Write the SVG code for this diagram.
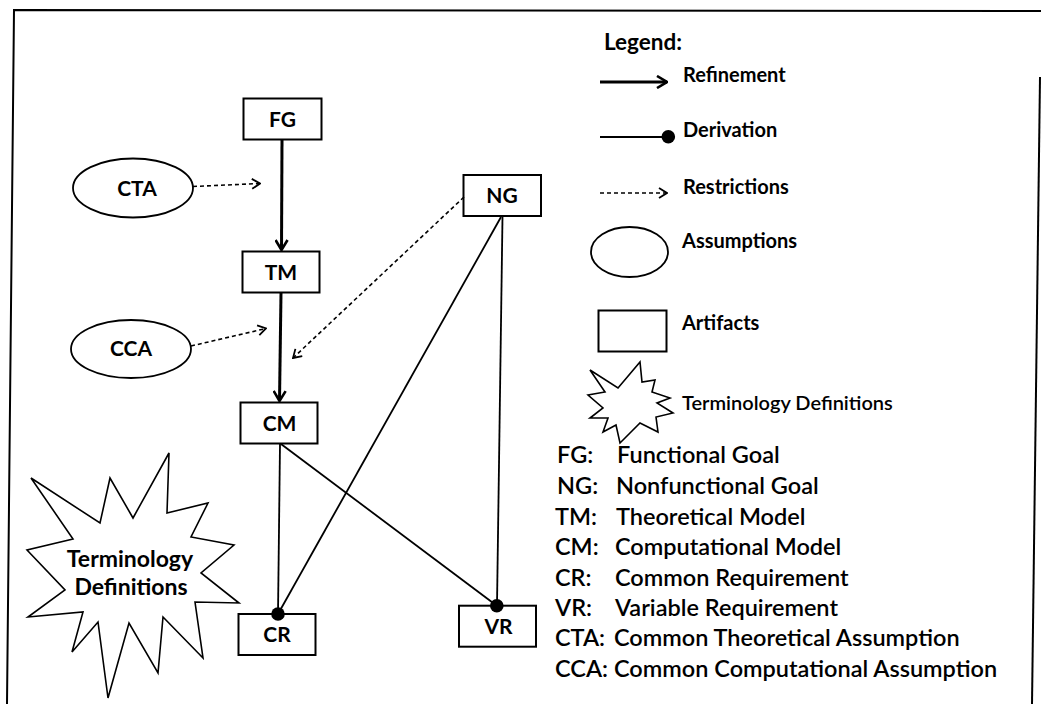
<svg xmlns="http://www.w3.org/2000/svg" width="1041" height="704" viewBox="0 0 1041 704">
  <style>
    .frame { fill: none; stroke: #000; stroke-width: 2; }
    .box { fill: #fff; stroke: #000; stroke-width: 2; }
    .ell { fill: #fff; stroke: #000; stroke-width: 1.8; }
    .burst { fill: #fff; stroke: #000; stroke-width: 1.6; stroke-linejoin: miter; }
    .refine { fill: none; stroke: #000; stroke-width: 3; }
    .derive { fill: none; stroke: #000; stroke-width: 1.8; }
    .restrict { fill: none; stroke: #000; stroke-width: 1.6; stroke-dasharray: 4 3; }
    .dot { fill: #000; }
    .lbl { font-family: Lato, "Liberation Sans", sans-serif; font-weight: bold; font-size: 21px; fill: #000; text-anchor: middle; }
    .leg { font-family: Lato, "Liberation Sans", sans-serif; font-weight: bold; font-size: 20px; fill: #000; }
    .abbr { font-family: Lato, "Liberation Sans", sans-serif; font-weight: 600; font-size: 23.5px; fill: #000; }
  </style>
  <defs>
    <marker id="headRefine" viewBox="0 0 12 14" refX="11" refY="7" markerWidth="12" markerHeight="14" markerUnits="userSpaceOnUse" orient="auto">
      <path d="M1,1 L11,7 L1,13" fill="none" stroke="#000" stroke-width="2.6"/>
    </marker>
    <marker id="headRestrict" viewBox="0 0 10 12" refX="9" refY="6" markerWidth="10" markerHeight="12" markerUnits="userSpaceOnUse" orient="auto">
      <path d="M1,1 L9,6 L1,11" fill="none" stroke="#000" stroke-width="1.8"/>
    </marker>
  </defs>

  <!-- outer border -->
  <g id="border">
    <path class="frame" d="M7,704 L14,10 L1041,11"/>
    <path class="frame" d="M1040,77 L1032,704"/>
  </g>

  <!-- artifacts -->
  <g id="node-FG">
    <rect class="box" x="243.5" y="98.5" width="78" height="41"/>
    <text class="lbl" x="282.5" y="126.5">FG</text>
  </g>
  <g id="node-TM">
    <rect class="box" x="242.5" y="251.5" width="77" height="41"/>
    <text class="lbl" x="281" y="279.5">TM</text>
  </g>
  <g id="node-CM">
    <rect class="box" x="240.5" y="402.5" width="77" height="41"/>
    <text class="lbl" x="279.5" y="430.5">CM</text>
  </g>
  <g id="node-CR">
    <rect class="box" x="238.5" y="614" width="77" height="41"/>
    <text class="lbl" x="277" y="642">CR</text>
  </g>
  <g id="node-VR">
    <rect class="box" x="459" y="605.7" width="77" height="41"/>
    <text class="lbl" x="498.5" y="633.5">VR</text>
  </g>
  <g id="node-NG">
    <rect class="box" x="463.5" y="175" width="77.5" height="41"/>
    <text class="lbl" x="502" y="202.5">NG</text>
  </g>

  <!-- assumptions -->
  <g id="node-CTA">
    <ellipse class="ell" cx="133" cy="188" rx="60" ry="29.5"/>
    <text class="lbl" x="137" y="195.5">CTA</text>
  </g>
  <g id="node-CCA">
    <ellipse class="ell" cx="131" cy="349" rx="60" ry="29"/>
    <text class="lbl" x="131" y="355.5">CCA</text>
  </g>

  <!-- terminology definitions -->
  <g id="node-terminology">
    <polygon class="burst" points="31,478 100,523 110,478 133,518 169,453 167,513 208,503 191,537 234,545 201,573 239,603 195,602 203,658 163,617 158,673 129,623 108,698 98,622 72,652 83,612 28,617 65,590 27,550 73,539"/>
    <text class="lbl" x="130" y="567" style="font-size:23px">Terminology</text>
    <text class="lbl" x="131" y="595" style="font-size:23px">Definitions</text>
  </g>

  <!-- connectors -->
  <g id="connectors">
    <line class="refine" x1="282" y1="140" x2="281.5" y2="250" marker-end="url(#headRefine)"/>
    <line class="refine" x1="281" y1="293" x2="279.5" y2="401" marker-end="url(#headRefine)"/>
    <line class="restrict" x1="193" y1="186.5" x2="260" y2="183.5" marker-end="url(#headRestrict)"/>
    <line class="restrict" x1="191" y1="346" x2="266" y2="328.5" marker-end="url(#headRestrict)"/>
    <line class="restrict" x1="464" y1="197" x2="293" y2="358" marker-end="url(#headRestrict)"/>
    <line class="derive" x1="280" y1="444" x2="278" y2="614"/>
    <line class="derive" x1="281" y1="444" x2="496.5" y2="605.5"/>
    <line class="derive" x1="501" y1="217" x2="278" y2="614"/>
    <line class="derive" x1="502.5" y1="217" x2="497" y2="605.5"/>
    <circle class="dot" cx="278" cy="614" r="6.8"/>
    <circle class="dot" cx="496.8" cy="605.7" r="6.8"/>
  </g>

  <!-- legend -->
  <g id="legend">
    <text class="leg" x="604" y="50" style="font-size:22.5px">Legend:</text>
    <line class="refine" x1="600" y1="82" x2="667" y2="82" marker-end="url(#headRefine)"/>
    <text class="leg" x="683" y="82">Refinement</text>
    <line class="derive" x1="600" y1="137" x2="664" y2="137"/>
    <circle class="dot" cx="668.3" cy="136.7" r="6.8"/>
    <text class="leg" x="683" y="137">Derivation</text>
    <line class="restrict" x1="600" y1="193" x2="667" y2="193" marker-end="url(#headRestrict)"/>
    <text class="leg" x="683" y="194">Restrictions</text>
    <ellipse class="ell" cx="629.5" cy="252" rx="38.5" ry="25"/>
    <text class="leg" x="682" y="248">Assumptions</text>
    <rect class="box" x="598.5" y="310.5" width="68" height="41"/>
    <text class="leg" x="682" y="330">Artifacts</text>
    <polygon class="burst" points="590,370 618,388 640,362 642,382 655,380 652,392 670,398 657,403 673,413 656,417 658,432 640,423 620,443 616,425 603,432 608,418 590,418 603,408 588,395 605,392"/>
    <text class="leg" x="682" y="410" style="font-weight:600">Terminology  Definitions</text>
  </g>

  <!-- abbreviations -->
  <g id="abbreviations" class="abbr">
    <text x="557" y="463">FG:</text><text x="617" y="463">Functional Goal</text>
    <text x="557" y="494">NG:</text><text x="616" y="494">Nonfunctional Goal</text>
    <text x="555" y="525">TM:</text><text x="616" y="525">Theoretical Model</text>
    <text x="555" y="555">CM:</text><text x="615" y="555">Computational Model</text>
    <text x="555" y="586">CR:</text><text x="615" y="586">Common Requirement</text>
    <text x="555" y="616">VR:</text><text x="615" y="616">Variable Requirement</text>
    <text x="555" y="646">CTA:</text><text x="614" y="646">Common Theoretical Assumption</text>
    <text x="555" y="677">CCA:</text><text x="614" y="677">Common Computational Assumption</text>
  </g>
</svg>
